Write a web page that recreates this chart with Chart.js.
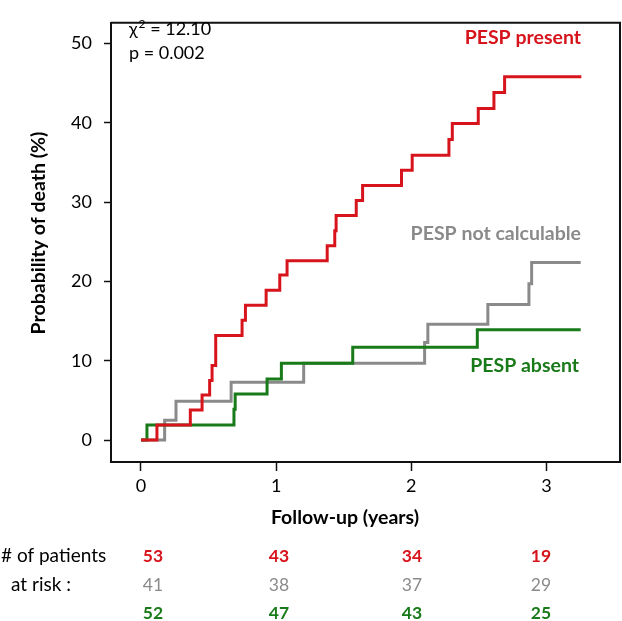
<!DOCTYPE html>
<html>
<head>
<meta charset="utf-8">
<script src="https://cdn.jsdelivr.net/npm/chart.js@4.4.0/dist/chart.umd.min.js"></script>
<style>
  html, body { margin: 0; padding: 0; background: #fff; }
  #wrap { width: 622px; height: 621px; position: relative; }
</style>
</head>
<body>
<div id="wrap"><canvas id="km"></canvas></div>
<script>
// axis ticks
const yearTicks = [0, 1, 2, 3];
const pctTicks = [0, 10, 20, 30, 40, 50];

// Kaplan-Meier steps: time (years) and cumulative probability of death (%)
const presentT = [0, 0.118, 0.365, 0.452, 0.508, 0.526, 0.553, 0.748, 0.773, 0.926, 1.027, 1.081, 1.378, 1.434, 1.444, 1.593, 1.640, 1.928, 2.007, 2.279, 2.304, 2.496, 2.612, 2.691, 3.259];
const presentP = [0, 1.9, 3.8, 5.7, 7.5, 9.4, 13.2, 15.1, 17.0, 18.9, 20.8, 22.6, 24.5, 26.4, 28.3, 30.2, 32.1, 34.0, 35.9, 37.9, 39.9, 41.8, 43.8, 45.8, 45.8];

const notCalcT = [0, 0.175, 0.259, 0.667, 1.204, 2.099, 2.123, 2.567, 2.871, 2.891, 3.254];
const notCalcP = [0, 2.5, 4.9, 7.3, 9.7, 12.3, 14.6, 17.1, 19.7, 22.4, 22.4];

const absentT = [0, 0.044, 0.688, 0.697, 0.933, 1.039, 1.567, 2.489, 3.254];
const absentP = [0, 1.9, 3.9, 5.8, 7.7, 9.7, 11.7, 13.9, 13.9];

// numbers at risk at 0, 1, 2, 3 years
const atRiskPresent = [53, 43, 34, 19];
const atRiskNotCalc = [41, 38, 37, 29];
const atRiskAbsent = [52, 47, 43, 25];

const RED = "#d7141c";
const GREY = "#8a8a8a";
const GREEN = "#197a19";
const FONT = "Lato";

const toPoints = (t, p) => t.map((x, i) => ({ x: x, y: p[i] }));

const annotations = {
    id: "annotations",
    afterDraw(chart) {
        const ctx = chart.ctx;
        const a = chart.chartArea;
        ctx.save();

        // top and right frame
        ctx.strokeStyle = "#111";
        ctx.lineWidth = 2;
        ctx.beginPath();
        ctx.moveTo(a.left, a.top);
        ctx.lineTo(a.right, a.top);
        ctx.lineTo(a.right, a.bottom);
        ctx.stroke();

        ctx.fillStyle = "#000";
        ctx.textBaseline = "alphabetic";
        ctx.textAlign = "left";
        ctx.font = `18px ${FONT}`;
        let x = 129;
        ctx.fillText("\u03c7", x, 35);
        x += ctx.measureText("\u03c7").width + 1;
        ctx.font = `12px ${FONT}`;
        ctx.fillText("2", x, 28);
        x += ctx.measureText("2").width;
        ctx.font = `18px ${FONT}`;
        ctx.fillText(" = 12.10", x, 35);
        ctx.fillText("p = 0.002", 129, 59);

        // curve labels
        ctx.textAlign = "right";
        ctx.font = `bold 19.5px ${FONT}`;
        ctx.fillStyle = RED;
        ctx.fillText("PESP present", 581, 44);
        ctx.fillStyle = GREY;
        ctx.fillText("PESP not calculable", 581, 240);
        ctx.fillStyle = GREEN;
        ctx.fillText("PESP absent", 579, 372);

        // axis titles
        ctx.fillStyle = "#000";
        ctx.textAlign = "center";
        ctx.textBaseline = "middle";
        ctx.font = `bold 19.5px ${FONT}`;
        ctx.fillText("Follow-up (years)", 345, 518);
        ctx.save();
        ctx.translate(39, 233);
        ctx.rotate(-Math.PI / 2);
        ctx.fillText("Probability of death (%)", 0, 0);
        ctx.restore();

        // numbers at risk
        ctx.textAlign = "left";
        ctx.font = `19px ${FONT}`;
        ctx.fillText("# of patients", 1, 556);
        ctx.fillText("at risk :", 11, 585);
        const cols = [153, 279, 412, 541];
        const rows = [
            { v: atRiskPresent, c: RED, w: "bold ", y: 556 },
            { v: atRiskNotCalc, c: GREY, w: "", y: 585 },
            { v: atRiskAbsent, c: GREEN, w: "bold ", y: 613 },
        ];
        ctx.textAlign = "center";
        rows.forEach(r => {
            ctx.fillStyle = r.c;
            ctx.font = `${r.w}17.5px ${FONT}`;
            r.v.forEach((n, i) => ctx.fillText(String(n), cols[i], r.y));
        });
        ctx.restore();
    },
};

const lineStyle = c => ({
    borderColor: c,
    backgroundColor: c,
    borderWidth: 3,
    pointRadius: 0,
    stepped: "before",
    fill: false,
    tension: 0,
});

new Chart(document.getElementById("km"), {
    type: "line",
    data: {
        datasets: [
            { label: "PESP present", data: toPoints(presentT, presentP), ...lineStyle(RED) },
            { label: "PESP absent", data: toPoints(absentT, absentP), ...lineStyle(GREEN) },
            { label: "PESP not calculable", data: toPoints(notCalcT, notCalcP), ...lineStyle(GREY) },
        ],
    },
    options: {
        responsive: true,
        maintainAspectRatio: false,
        animation: false,
        devicePixelRatio: 1,
        layout: { padding: { left: 0, top: 2, right: 2, bottom: 0 } },
        plugins: { legend: { display: false }, tooltip: { enabled: false } },
        scales: {
            x: {
                type: "linear",
                min: -0.222,
                max: 3.545,
                afterBuildTicks: s => { s.ticks = yearTicks.map(v => ({ value: v })); },
                afterFit: s => { s.height = 159; },
                grid: { drawOnChartArea: false, color: "#111", tickLength: 9, tickWidth: 1.5 },
                border: { color: "#111", width: 2 },
                ticks: { color: "#000", padding: 4, font: { family: FONT, size: 18 }, maxRotation: 0 },
            },
            y: {
                type: "linear",
                min: -2.76,
                max: 52.6,
                afterBuildTicks: s => { s.ticks = pctTicks.map(v => ({ value: v })); },
                afterFit: s => { s.width = 111; },
                grid: { drawOnChartArea: false, color: "#111", tickLength: 7, tickWidth: 1.5 },
                border: { color: "#111", width: 2 },
                ticks: { color: "#000", padding: 12, font: { family: FONT, size: 18 } },
            },
        },
    },
    plugins: [annotations],
});
</script>
</body>
</html>
